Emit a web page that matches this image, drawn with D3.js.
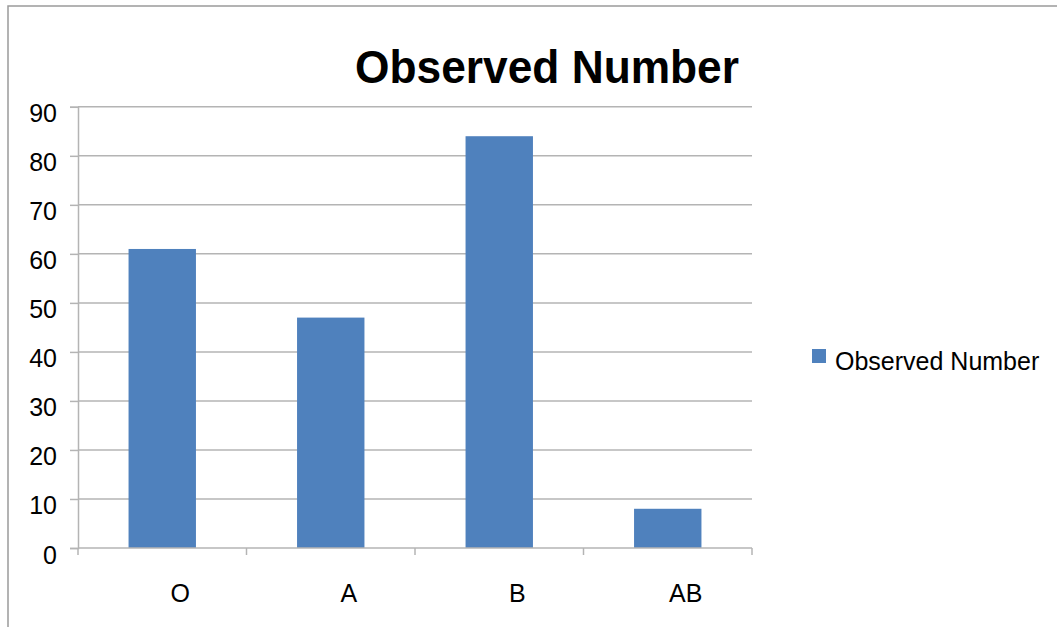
<!DOCTYPE html>
<html>
<head>
<meta charset="utf-8">
<script src="https://cdn.jsdelivr.net/npm/d3@7"></script>
<style>
  html, body { margin: 0; padding: 0; background: #fff; }
  svg { display: block; font-family: "Liberation Sans", Arial, sans-serif; }
</style>
</head>
<body>
<svg id="chart" width="1057" height="627"></svg>
<script>
const title = "Observed Number";
const seriesName = "Observed Number";
const categories = ["O", "A", "B", "AB"];
const observed = [61, 47, 84, 8];
const yTicks = [0, 10, 20, 30, 40, 50, 60, 70, 80, 90];

const svg = d3.select("#chart");
const W = 1057, H = 627;
const plot = { left: 78, right: 752, top: 106.8, bottom: 548 };

// outer chart border (extends past the right and bottom edges)
svg.append("rect")
  .attr("x", 8).attr("y", 6)
  .attr("width", W + 20).attr("height", H + 20)
  .attr("fill", "#fff").attr("stroke", "#9a9a9a").attr("stroke-width", 1.5);

const y = d3.scaleLinear().domain([0, 90]).range([plot.bottom, plot.top]);
const slot = d3.scaleBand().domain(categories).range([plot.left, plot.right]).padding(0);
const x = d3.scaleBand().domain(categories).range([plot.left, plot.right])
  .paddingInner(0.6).paddingOuter(0.3);

const gridColor = "#b4b4b4";

// gridlines
svg.append("g").selectAll("line").data(yTicks.filter(t => t > 0)).join("line")
  .attr("x1", plot.left).attr("x2", plot.right)
  .attr("y1", d => y(d)).attr("y2", d => y(d))
  .attr("stroke", gridColor).attr("stroke-width", 1.5);

// y axis
const yAxis = d3.axisLeft(y).tickValues(yTicks).tickSize(8).tickFormat(d3.format("d"));
const gy = svg.append("g").attr("transform", `translate(${plot.left},0)`).call(yAxis);
gy.select(".domain").attr("stroke", gridColor).attr("stroke-width", 1.5);
gy.selectAll(".tick line").attr("stroke", gridColor).attr("stroke-width", 1.5);
gy.selectAll(".tick text")
  .attr("x", -21).attr("dy", "0.32em").attr("y", 7)
  .attr("font-size", 25).attr("fill", "#000")
  .attr("font-family", "'Liberation Sans', Arial, sans-serif");

// bars
svg.append("g").selectAll("rect").data(categories).join("rect")
  .attr("x", d => x(d))
  .attr("width", x.bandwidth())
  .attr("y", (d, i) => y(observed[i]))
  .attr("height", (d, i) => y(0) - y(observed[i]))
  .attr("fill", "#4f81bd");

// x axis line
svg.append("line")
  .attr("x1", plot.left).attr("x2", plot.right)
  .attr("y1", y(0)).attr("y2", y(0))
  .attr("stroke", gridColor).attr("stroke-width", 1.5);

// category boundary ticks
const boundaries = categories.map(c => slot(c)).concat([plot.right]);
svg.append("g").selectAll("line").data(boundaries).join("line")
  .attr("x1", d => d).attr("x2", d => d)
  .attr("y1", y(0)).attr("y2", y(0) + 7)
  .attr("stroke", gridColor).attr("stroke-width", 1.5);

// category labels
svg.append("g").selectAll("text").data(categories).join("text")
  .attr("x", d => slot(d) + slot.bandwidth() / 2 + 18)
  .attr("y", 602)
  .attr("text-anchor", "middle")
  .attr("font-size", 25).attr("fill", "#000")
  .text(d => d);

// title
svg.append("text")
  .attr("x", 547).attr("y", 83)
  .attr("text-anchor", "middle")
  .attr("font-size", 47).attr("font-weight", "bold").attr("fill", "#000")
  .attr("textLength", 384).attr("lengthAdjust", "spacingAndGlyphs")
  .text(title);

// legend
const lg = svg.append("g");
lg.append("rect").attr("x", 812).attr("y", 349).attr("width", 14).attr("height", 14).attr("fill", "#4f81bd");
lg.append("text").attr("x", 835).attr("y", 370).attr("font-size", 25).attr("fill", "#000").text(seriesName);
</script>
</body>
</html>
